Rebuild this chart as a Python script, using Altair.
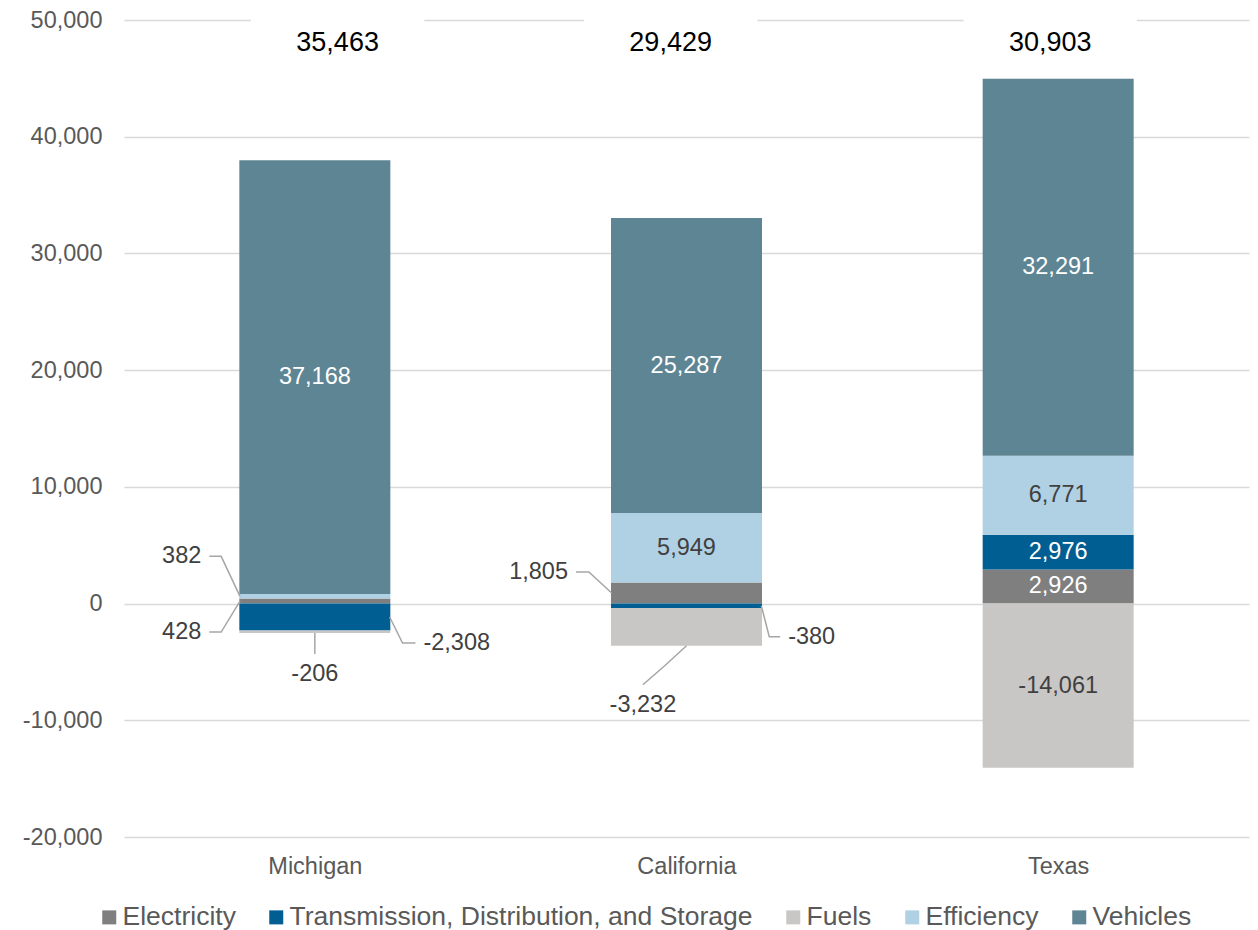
import altair as alt
import pandas as pd

# ---------------- data ----------------
states = ["Michigan", "California", "Texas"]
series = ["Electricity", "Transmission, Distribution, and Storage", "Fuels", "Efficiency", "Vehicles"]
electricity = [428, 1805, 2926]
tds = [-2308, -380, 2976]
fuels = [-206, -3232, -14061]
efficiency = [382, 5949, 6771]
vehicles = [37168, 25287, 32291]
totals = [35463, 29429, 30903]

# ---------------- style / layout ----------------
colors = ["#7f7f7f", "#005e93", "#c8c7c6", "#b0d1e3", "#5e8593"]
white_text = {"Electricity", "Transmission, Distribution, and Storage", "Vehicles"}
FONT = "Liberation Sans"
PLOT_W, PLOT_H = 1125, 817
Y_MIN, Y_MAX = -20000, 50000
PX_X = 3.0 / PLOT_W                 # x data units per pixel
PX_Y = (Y_MAX - Y_MIN) / PLOT_H     # y data units per pixel
BAR_PX = 151
TOTAL_Y = 48000
total_dx = [23, -16, -8]            # pixel nudges of the total labels
GAP_PX = 175

# callouts: (state, series) -> anchor side, elbow & end offsets (px, y down), label align
callouts = {
    ("Michigan", "Efficiency"): ("left", (-19, -40), (-31, -40), "right"),
    ("Michigan", "Electricity"): ("left", (-19, 31), (-31, 31), "right"),
    ("Michigan", "Transmission, Distribution, and Storage"): ("right", (13, 26), (26, 26), "left"),
    ("Michigan", "Fuels"): ("bottom", (0, 10), (0, 21), "center"),
    ("California", "Electricity"): ("left", (-23, -21), (-36, -21), "right"),
    ("California", "Transmission, Distribution, and Storage"): ("right", (8, 31), (19, 31), "left"),
    ("California", "Fuels"): ("bottom", (-22, 20), (-44, 39), "center"),
}

values = [electricity, tds, fuels, efficiency, vehicles]

rows = []
for i, st in enumerate(states):
    pos_cum, neg_cum = 0, 0
    for k, s in enumerate(series):
        v = values[k][i]
        if v >= 0:
            y0, y1 = pos_cum, pos_cum + v
            pos_cum = y1
        else:
            y0, y1 = neg_cum, neg_cum + v
            neg_cum = y1
        rows.append(dict(state=st, pos=i, series=s, order=k, value=v, y0=y0, y1=y1,
                         mid=(y0 + y1) / 2, label=f"{v:,}",
                         tcolor="white" if s in white_text else "#404040"))
df = pd.DataFrame(rows)

inside = df[[(r.state, r.series) not in callouts for r in df.itertuples()]]

line_rows, lab_rows = [], []
for gid, ((st, s), (side, elbow, end, align)) in enumerate(callouts.items()):
    r = df[(df.state == st) & (df.series == s)].iloc[0]
    if side == "left":
        ax, ay = r.pos - BAR_PX / 2 * PX_X, r.mid
    elif side == "right":
        ax, ay = r.pos + BAR_PX / 2 * PX_X, r.mid
    else:
        ax, ay = r.pos, min(r.y0, r.y1)
    pts = [(ax, ay),
           (ax + elbow[0] * PX_X, ay - elbow[1] * PX_Y),
           (ax + end[0] * PX_X, ay - end[1] * PX_Y)]
    for k, (px, py) in enumerate(pts):
        line_rows.append(dict(gid=gid, k=k, lx=px, ly=py))
    lab_rows.append(dict(x=pts[2][0], y=pts[2][1], label=r.label, align=align))
lines_df = pd.DataFrame(line_rows)
labs_df = pd.DataFrame(lab_rows)

tot_df = pd.DataFrame(dict(
    x=[i + total_dx[i] * PX_X for i in range(len(states))],
    ty=[TOTAL_Y] * len(states),
    label=[f"{t:,}" for t in totals],
))
gap_df = pd.DataFrame(dict(
    gx=[i + total_dx[i] * PX_X - GAP_PX / 2 * PX_X for i in range(len(states))],
    gx2=[i + total_dx[i] * PX_X + GAP_PX / 2 * PX_X for i in range(len(states))],
    gy=[Y_MAX] * len(states),
))

label_expr = "[" + ",".join(f"'{s}'" for s in states) + "][datum.value]"
xscale = alt.Scale(domain=[-0.5, 2.5], nice=False, zero=False)
yscale = alt.Scale(domain=[Y_MIN, Y_MAX], nice=False, zero=False)

x_axis = alt.Axis(values=[0, 1, 2], labelExpr=label_expr, grid=False, domain=False,
                  ticks=False, labelFontSize=23.5, labelColor="#595959", labelPadding=17,
                  labelFont=FONT, title=None)
y_axis = alt.Axis(values=list(range(Y_MIN, Y_MAX + 1, 10000)),
                  labelExpr="(datum.value < 0 ? '-' : '') + format(abs(datum.value), ',')",
                  grid=True, gridColor="#d9d9d9", gridWidth=1.3, domain=False,
                  ticks=False, labelFontSize=23.5, labelColor="#595959",
                  labelPadding=22, labelFont=FONT, title=None)


def X(field):
    return alt.X(field, scale=xscale, axis=x_axis, title=None)


def Y(field):
    return alt.Y(field, scale=yscale, axis=y_axis, title=None)


bars = alt.Chart(df).mark_bar(size=BAR_PX).encode(
    x=X("pos:Q"),
    y=Y("y0:Q"),
    y2="y1:Q",
    color=alt.Color("series:N", scale=alt.Scale(domain=series, range=colors),
                    legend=alt.Legend(orient="none", legendX=-28, legendY=884,
                                      direction="horizontal", title=None,
                                      symbolType="square", symbolSize=196,
                                      symbolStrokeWidth=0, labelFontSize=26.5,
                                      labelColor="#595959", labelLimit=800,
                                      columnPadding=27, labelOffset=0, padding=0,
                                      labelFont=FONT)),
)

inside_text = alt.Chart(inside).mark_text(fontSize=23.5, font=FONT, baseline="middle").encode(
    x=X("pos:Q"),
    y=Y("mid:Q"),
    text="label:N",
    color=alt.Color("tcolor:N", scale=None),
)

leaders = alt.Chart(lines_df).mark_line(color="#a6a6a6", strokeWidth=1.5).encode(
    x=X("lx:Q"),
    y=Y("ly:Q"),
    detail="gid:N",
    order="k:O",
)


def lab_layer(align, dx, dy, baseline):
    return alt.Chart(labs_df).transform_filter(alt.datum.align == align).mark_text(
        fontSize=23.5, font=FONT, color="#404040", align=align, dx=dx, dy=dy, baseline=baseline
    ).encode(x=X("x:Q"), y=Y("y:Q"), text="label:N")


gaps = alt.Chart(gap_df).mark_rule(color="white", strokeWidth=4).encode(
    x=X("gx:Q"), x2="gx2:Q", y=Y("gy:Q")
)

tot_text = alt.Chart(tot_df).mark_text(fontSize=27, font=FONT, color="black", baseline="middle").encode(
    x=X("x:Q"), y=Y("ty:Q"), text="label:N"
)

chart = alt.layer(
    bars, inside_text, leaders,
    lab_layer("right", -8, 0, "middle"),
    lab_layer("left", 8, 0, "middle"),
    lab_layer("center", 0, 8, "top"),
    gaps, tot_text,
).properties(
    width=PLOT_W, height=PLOT_H,
    autosize=alt.AutoSizeParams(type="none"),
    padding={"left": 124, "top": 20, "right": 9, "bottom": 93},
).configure(font=FONT).configure_view(stroke=None)

chart.save("out.html", embed_options={"renderer": "svg", "actions": False})
